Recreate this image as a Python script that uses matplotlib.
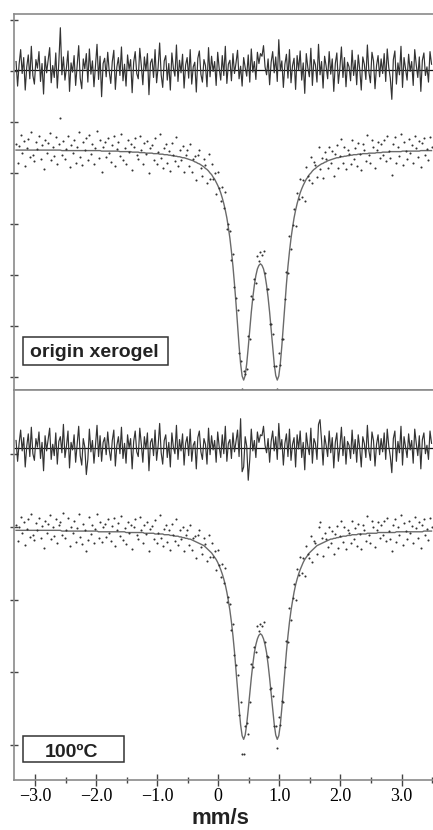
import numpy as np
import matplotlib
matplotlib.use("Agg")
import matplotlib.pyplot as plt
from matplotlib.patches import Rectangle
from matplotlib.ticker import MultipleLocator

# --- calibracion de velocidad (espectro plegado) ---
VEL_START = -3.31   # mm/s del primer canal
VEL_STEP = 0.025    # mm/s por canal

# valores en centesimas de division del eje y
# ajuste del doblete, muestra original (xerogel)
fit_top = [
    445, 445, 445, 445, 445, 445, 445, 445, 445, 445, 445, 445, 445, 445, 445,
    445, 445, 445, 445, 445, 445, 445, 445, 445, 445, 445, 445, 445, 445, 445,
    444, 444, 444, 444, 444, 444, 444, 444, 444, 444, 444, 444, 444, 444, 444,
    444, 444, 444, 444, 444, 444, 444, 444, 444, 444, 444,
    443, 443, 443, 443, 443, 443, 443, 443, 443, 443, 443, 443,
    442, 442, 442, 442, 442, 442, 442, 442,
    441, 441, 441, 441, 441, 440, 440, 440, 440,
    439, 439, 439, 439, 439, 438, 438, 438, 438, 437, 437, 437, 436, 436, 436,
    435, 435, 434, 434, 433, 433, 432, 432, 431, 430, 430, 429, 428, 427, 426,
    425, 424, 422, 421, 419, 418, 416, 414, 412, 409, 407, 404, 400, 397, 392,
    388, 382, 376, 369, 361, 351, 340, 327, 312, 293, 272, 246, 217, 182, 144,
    102, 61, 26, 2, -6, 3, 26, 58, 93, 127, 156, 180, 199, 212, 219,
    222,
    219, 212, 199, 180, 156, 127, 93, 58, 26, 3, -6, 2, 26, 61, 102,
    144, 182, 217, 246, 272, 293, 312, 327, 340, 351, 361, 369, 376, 382, 388,
    392, 397, 400, 404, 407, 409, 412, 414, 416, 418, 419, 421, 422, 424, 425,
    426, 427, 428, 429, 430, 430, 431, 432, 432, 433, 433, 434, 434, 435, 435,
    436, 436, 436, 437, 437, 437, 438, 438, 438, 438, 439, 439, 439, 439, 439,
    440, 440, 440, 440, 441, 441, 441, 441, 441,
    442, 442, 442, 442, 442, 442, 442, 442,
    443, 443, 443, 443, 443, 443, 443, 443, 443, 443, 443, 443,
    444, 444, 444, 444, 444, 444, 444, 444,
]
# residuo (medido - ajuste)
resid_top = [
    12, -25, 8, 30, -6, 18, -31, 4, 22, -14, 35, -9, -22, 15, 2, 27, -18, 9, -37, 20,
    -5, 14, 33, -20, 6, -12, 25, -28, 11, 63, -8, 19, -16, 3, 28, -33, 10, -4, 21, -24,
    7, 36, -13, -29, 16, 1, 24, -19, 31, -7, 13, -26, 5, 38, -15, 20, -41, 9, 17, -11,
    26, -3, -21, 12, 29, -30, 4, 18, -9, 34, -17, 8, -25, 22, 0, 15, -35, 11, 27, -6,
    -14, 32, 6, -23, 19, -2, 24, -38, 10, 16, -12, 30, -20, 3, 40, -8, -27, 13, 21, -16,
    9, -31, 25, 2, -10, 37, -18, 14, -5, 23, -28, 7, 18, -13, 30, -22, 4, 11, -34, 17,
    28, -7, -19, 15, 6, -26, 33, -11, 20, -3, 12, -24, 26, 1, -16, 21, -9, 35, -21, 8,
    14, -17, 24, -6, 10, 29, -14, 5, -25, 18, 3, -10, 22, -19, 31, -4, 12, -15, 26, 9,
    24, 20, 36, 4, -8, 16, -23, 11, 27, -5, 19, -18, 45, -2, 13, -27, 8, 23, -13, 30,
    -20, 6, 17, -30, 21, -1, 28, -16, 10, -36, 24, 3, -11, 32, -24, 15, 7, -19, 38, -8,
    12, -28, 20, 5, -14, 27, -7, 16, -33, 9, 25, -21, 2, 34, -12, 18, -26, 11, 4, -17,
    29, -9, 14, -23, 22, 0, -31, 19, 8, -15, 37, -4, -20, 26, 13, -29, 6, 21, -11, 16,
    -6, 24, -18, 31, 3, -13, -45, 15, 28, -22, 10, -8, 35, -27, 18, 1, -16, 23, -3, 12,
    -24, 30, 7, -12, 19, -33, 14, 25, -9, 4, -19, 27, 8,
]

# ajuste del doblete, muestra a 100 C
fit_bottom = [
    295, 295, 295, 295, 295, 295, 295, 295, 295, 295, 295, 295, 295, 295, 295,
    295, 295, 295, 295, 295, 295, 295, 295, 295, 295, 295, 295, 295, 295, 295,
    294, 294, 294, 294, 294, 294, 294, 294, 294, 294, 294, 294,
    294, 294, 294, 294, 294, 294, 294, 294, 294, 294, 294, 294,
    293, 293, 293, 293, 293, 293, 293, 293, 293, 293, 293, 293,
    293, 293, 293, 293, 293, 293,
    292, 292, 292, 292, 292, 292, 292, 292, 292, 292, 292, 292,
    291, 291, 291, 291, 291, 291, 291,
    290, 290, 290, 290, 290, 290, 289, 289, 289, 289,
    288, 288, 288, 287, 287, 287, 286, 286,
    285, 285, 284, 284, 283, 283, 282, 281, 280, 279, 278, 277, 276, 275, 274,
    272, 270, 268, 266, 264, 261, 258, 255, 251, 246, 241, 235, 228, 220, 210,
    198, 185, 169, 150, 128, 103, 77, 51, 28, 13, 8, 14, 29, 49, 71,
    92, 111, 127, 138, 146, 151,
    153,
    151, 146, 138, 127, 111, 92, 71, 49, 29, 14, 8, 13, 28, 51, 77,
    103, 128, 150, 169, 185, 198, 210, 220, 228, 235, 241, 246, 251, 255, 258,
    261, 264, 266, 268, 270, 272, 274, 275, 276, 277, 278, 279, 280, 281, 282,
    283, 283, 284, 284, 285, 285, 286, 286, 287, 287, 287, 288, 288, 288,
    289, 289, 289, 289, 290, 290, 290, 290, 290, 290,
    291, 291, 291, 291, 291, 291, 291,
    292, 292, 292, 292, 292, 292, 292, 292, 292, 292, 292, 292,
    293, 293, 293, 293, 293, 293, 293, 293, 293, 293, 293, 293,
    293, 293, 293, 293, 293, 293,
    294, 294, 294, 294, 294, 294,
]
resid_bottom = [
    8, -14, 5, 19, -3, 11, -20, 2, 15, -9, 22, -6, -13, 10, 1, 17, -11, 6, -24, 13,
    -3, 9, 21, -12, 4, -8, 16, -17, 7, 12, -5, 25, -10, 2, 18, -21, 6, -2, 14, -15,
    4, 23, -8, -18, 10, 1, -28, -12, 20, -4, 8, -16, 3, 24, -9, 13, -14, 6, 11, -7,
    17, -2, -13, 8, 19, -19, 3, 12, -6, 22, -11, 5, -16, 14, 0, 10, -22, 7, 18, -4,
    -9, 21, 4, -15, 12, -1, 16, -24, 6, 10, -8, 19, -13, 2, 26, -5, -17, 8, 14, -10,
    6, -20, 16, 1, -6, 24, -12, 9, -3, 15, -18, 5, 12, -8, 20, -14, 3, 7, -22, 11,
    18, -4, -12, 10, 4, -17, 21, -7, 13, -2, 8, -15, 17, 1, -10, 14, -6, 23, -14, 5,
    9, -11, 16, -4, 7, 19, -9, 31, -25, -20, 12, 2, -34, -12, 20, -3, 8, -10, 17, 6,
    14, 13, 23, 3, -5, 10, -15, 7, 18, -3, 12, -12, 26, -1, 9, -18, 5, 15, -9, 20,
    -13, 4, 11, -20, 14, -1, 18, -10, 6, -23, 16, 2, -7, 21, -16, 10, 5, -12, 25, 30,
    8, -18, 13, 3, -9, 18, -5, 11, -21, 6, 16, -14, 1, 22, -8, 12, -17, 7, 3, -11,
    19, -6, 9, -15, 14, 0, -20, 12, 5, -10, 24, -3, -13, 17, 8, -19, 4, 14, -7, 10,
    -4, 16, -12, 20, 2, -9, -26, 10, 18, -14, 7, -5, 23, -18, 12, 1, -10, 15, -2, 8,
    -16, 20, 5, -8, 13, -22, 9, 16, -6, 3, -12, 18, 5,
]

panel_labels = ["origin xerogel", "100ºC"]
x_ticks = [-3.0, -2.0, -1.0, 0.0, 1.0, 2.0, 3.0]
x_tick_labels = ["−3.0", "−2.0", "−1.0", "0", "1.0", "2.0", "3.0"]
x_label = "mm/s"

SPINE = "#8a8a8a"
INK = "#2b2b2b"


def draw_panel(ax, fit, resid, resid_level, ylim, n_yticks, label, box):
    vel = VEL_START + VEL_STEP * np.arange(len(fit))
    fit = np.asarray(fit) / 100.0
    resid = np.asarray(resid) / 100.0
    measured = fit + resid

    # residuo arriba, con su linea base
    ax.axhline(resid_level, color="#111111", lw=0.9, zorder=2)
    ax.plot(vel, resid_level + 1.3 * resid, color="#333333", lw=0.85, zorder=3)

    # ajuste + puntos medidos
    ax.plot(vel, fit, color="#6a6a6a", lw=1.0, zorder=2)
    ax.plot(vel, measured, "o", ms=1.5, mfc="#333333", mec="none", zorder=4)

    ax.set_xlim(-3.344, 3.514)
    ax.set_ylim(*ylim)
    ax.set_yticks(range(n_yticks))
    ax.tick_params(axis="y", direction="inout", length=6, width=1.0,
                   color="#444444", labelleft=False)
    for side in ["top", "left", "bottom"]:
        ax.spines[side].set_color(SPINE)
        ax.spines[side].set_linewidth(1.2)
    ax.spines["right"].set_visible(False)

    # etiqueta en caja
    x0, y0, x1, y1, tx, ty = box
    ax.add_patch(Rectangle((x0, y0), x1 - x0, y1 - y0, transform=ax.transAxes,
                           fill=False, ec="#333333", lw=1.1, zorder=5))
    ax.text(tx, ty, label, transform=ax.transAxes, ha="center", va="baseline",
            fontsize=14, fontweight="bold", family="Liberation Sans",
            color="#222222", zorder=6)


fig = plt.figure(figsize=(4.33, 8.30), dpi=100)
ax_top = fig.add_axes([0.0323, 0.5301, 0.9677, 0.4530])
ax_bot = fig.add_axes([0.0323, 0.0602, 0.9677, 0.4699])

draw_panel(ax_top, fit_top, resid_top, 6.03, (-0.255, 7.118), 8,
           panel_labels[0], (0.0215, 0.0665, 0.3675, 0.141, 0.191, 0.0886))
draw_panel(ax_bot, fit_bottom, resid_bottom, 4.08, (-0.479, 4.877), 5,
           panel_labels[1], (0.0215, 0.046, 0.2625, 0.1125, 0.138, 0.058))

ax_top.set_xticks([])

ax_bot.set_xticks(x_ticks)
ax_bot.set_xticklabels(x_tick_labels, family="Liberation Serif", fontsize=13)
ax_bot.xaxis.set_minor_locator(MultipleLocator(0.5))
ax_bot.tick_params(axis="x", which="major", direction="inout", length=8,
                   width=1.0, color="#444444", pad=2)
ax_bot.tick_params(axis="x", which="minor", direction="inout", length=4,
                   width=1.0, color="#444444")

fig.text(0.509, 0.0135, x_label, ha="center", va="center", fontsize=16,
         fontweight="bold", family="Liberation Sans", color="#222222")

fig.savefig("out.png", dpi=100)
